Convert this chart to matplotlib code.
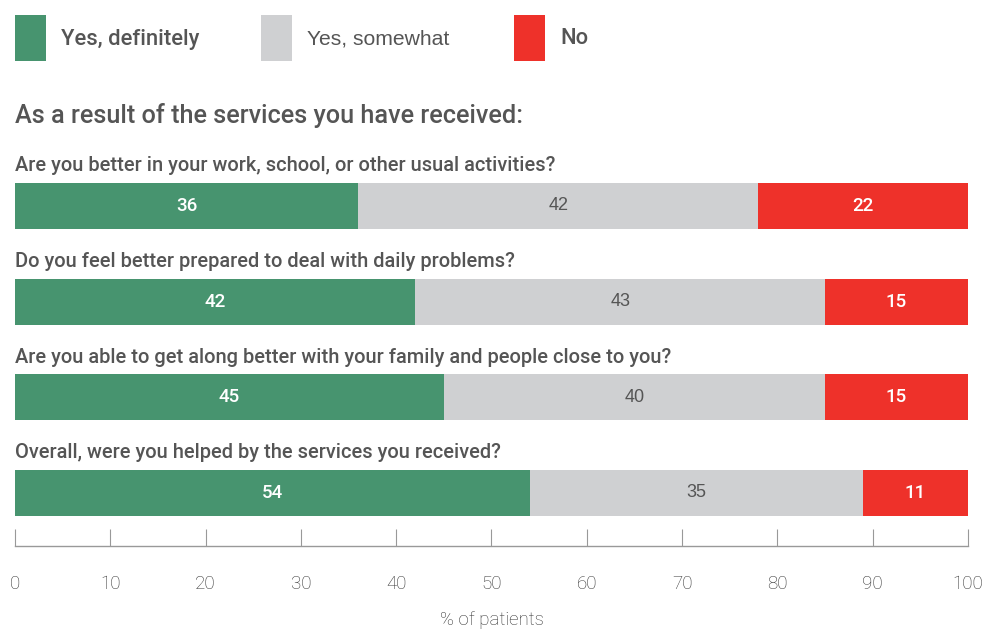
import matplotlib
matplotlib.use("Agg")
import matplotlib.pyplot as plt
from matplotlib.patches import Rectangle
import numpy as np

questions = [
    "Are you better in your work, school, or other usual activities?",
    "Do you feel better prepared to deal with daily problems?",
    "Are you able to get along better with your family and people close to you?",
    "Overall, were you helped by the services you received?",
]
yes_definitely = [36, 42, 45, 54]
yes_somewhat = [42, 43, 40, 35]
no = [22, 15, 15, 11]

series_names = ["Yes, definitely", "Yes, somewhat", "No"]
colors = ["#47946f", "#cfd0d2", "#ee312a"]
text_col = "#555555"

plt.rcParams["font.family"] = ["Liberation Sans", "DejaVu Sans"]
medium = dict(family=["Roboto", "DejaVu Sans"], fontweight="medium")

W, H = 986, 632
fig = plt.figure(figsize=(W / 100, H / 100), dpi=100)

def fx(px):
    return px / W

def fy(py):
    return 1 - py / H

# legend along the top
legend_x = [15, 261, 514]
for x0, name, c, i in zip(legend_x, series_names, colors, range(3)):
    fig.patches.append(Rectangle((fx(x0), fy(61)), 31 / W, 46 / H,
                                 transform=fig.transFigure, color=c, lw=0))
    if i != 1:
        fig.text(fx(x0 + 46), fy(39), name, fontsize=15.8, color=text_col,
                 va="center", ha="left", **medium)
    else:
        fig.text(fx(x0 + 46), fy(39), name, fontsize=15.2, color=text_col,
                 va="center", ha="left")

fig.text(fx(15), fy(116), "As a result of the services you have received:",
         fontsize=18.2, color=text_col, va="center", ha="left", **medium)

ax = fig.add_axes([fx(15), fy(546), 953 / W, 391 / H])
y = np.arange(len(questions))
left = np.zeros(len(questions))
for vals, c, i in zip([yes_definitely, yes_somewhat, no], colors, range(3)):
    vals = np.array(vals)
    ax.barh(y, vals, left=left, height=0.48, color=c, lw=0)
    for yy, l, v in zip(y, left, vals):
        if i != 1:
            ax.text(l + v / 2, yy, str(v), ha="center", va="center",
                    fontsize=13.5, color="white", **medium)
        else:
            ax.text(l + v / 2, yy, str(v), ha="center", va="center",
                    fontsize=13, color=text_col)
    left = left + vals

for yy, q in zip(y, questions):
    ax.text(0, yy - 0.42, q, ha="left", va="center", fontsize=14.4,
            color=text_col, **medium)

ax.set_xlim(0, 100)
ax.set_ylim(3.554, -0.533)
ax.set_yticks([])
for s in ["top", "left", "right"]:
    ax.spines[s].set_visible(False)
ax.spines["bottom"].set_color("#999999")
ax.spines["bottom"].set_linewidth(1)
ax.set_xticks(np.arange(0, 101, 10))
ax.tick_params(axis="x", direction="in", length=12.5, width=0.8, color="#999999",
               pad=21, labelsize=13.5, labelcolor="#333333")
for lab in ax.get_xticklabels():
    lab.set_family(["Roboto", "DejaVu Sans"])
    lab.set_fontweight("light")
ax.set_xlabel("% of patients", fontsize=13.5, color="#333333", labelpad=13,
              family=["Roboto", "DejaVu Sans"], fontweight="light")
ax.patch.set_alpha(0)

fig.savefig("out.png", dpi=100)
